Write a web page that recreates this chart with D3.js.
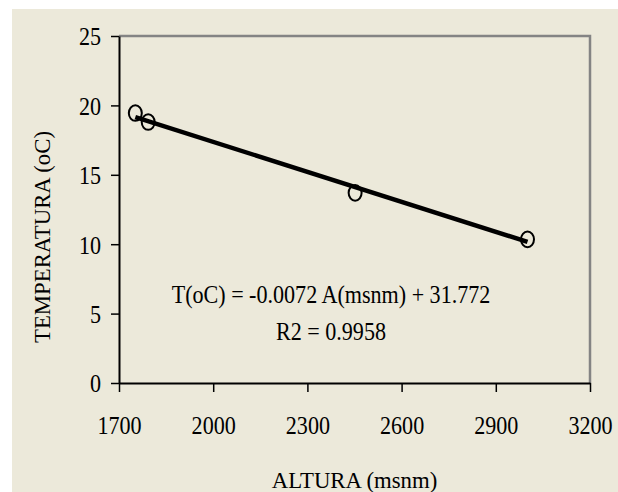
<!DOCTYPE html>
<html>
<head>
<meta charset="utf-8">
<script src="https://cdn.jsdelivr.net/npm/d3@7"></script>
<style>
  body { margin: 0; background: #fff; }
  text { font-family: "Liberation Serif", "Times New Roman", serif; fill: #000; }
</style>
</head>
<body>
<div id="app"></div>
<script>
// data
const altura = [1752, 1793, 2452, 3001];
const temperatura = [19.45, 18.8, 13.7, 10.35];
const xTicks = [1700, 2000, 2300, 2600, 2900, 3200];
const yTicks = [0, 5, 10, 15, 20, 25];
const slope = -0.0072, intercept = 31.772;
const eqLines = [`T(oC) = -0.0072 A(msnm) + 31.772`, `R2 = 0.9958`];

const W = 618, H = 492;
const M = {left: 119, right: 590, top: 36, bottom: 383};

const svg = d3.select(`#app`).append(`svg`).attr(`width`, W).attr(`height`, H);

svg.append(`rect`).attr(`x`, 12).attr(`y`, 9).attr(`width`, W - 12).attr(`height`, H - 9).attr(`fill`, `#ece9da`);

const x = d3.scaleLinear().domain([1700, 3200]).range([M.left, M.right]);
const y = d3.scaleLinear().domain([0, 25]).range([M.bottom, M.top]);

// top / right frame
svg.append(`path`)
  .attr(`d`, `M${M.left},${M.top}H${M.right}V${M.bottom}`)
  .attr(`fill`, `none`).attr(`stroke`, `#848484`).attr(`stroke-width`, 2.5);

const sq = 0.85;

const xAxis = svg.append(`g`).attr(`transform`, `translate(0,${M.bottom})`)
  .call(d3.axisBottom(x).tickValues(xTicks).tickSize(9).tickSizeOuter(0).tickFormat(d3.format(`d`)));
xAxis.select(`.domain`).attr(`stroke-width`, 2);
xAxis.selectAll(`.tick line`).attr(`stroke-width`, 1.5);
xAxis.selectAll(`.tick text`).attr(`font-size`, 26).attr(`y`, 51).attr(`dy`, 0)
  .attr(`transform`, `scale(${sq},1)`);

const yAxis = svg.append(`g`).attr(`transform`, `translate(${M.left},0)`)
  .call(d3.axisLeft(y).tickValues(yTicks).tickSize(8).tickSizeOuter(0));
yAxis.select(`.domain`).attr(`stroke-width`, 2);
yAxis.selectAll(`.tick line`).attr(`stroke-width`, 1.5);
yAxis.selectAll(`.tick text`).attr(`font-size`, 26).attr(`x`, -18 / sq).attr(`dy`, `0.34em`)
  .attr(`transform`, `scale(${sq},1)`);
svg.selectAll(`.domain`).attr(`stroke`, `#000`);

// trend line
const ext = d3.extent(altura);
svg.append(`line`)
  .attr(`x1`, x(ext[0])).attr(`y1`, y(slope * ext[0] + intercept))
  .attr(`x2`, x(ext[1])).attr(`y2`, y(slope * ext[1] + intercept))
  .attr(`stroke`, `#000`).attr(`stroke-width`, 4.5);

// points
svg.selectAll(`ellipse`).data(altura).enter().append(`ellipse`)
  .attr(`cx`, d => x(d))
  .attr(`cy`, (d, i) => y(temperatura[i]))
  .attr(`rx`, 6.5).attr(`ry`, 7.8)
  .attr(`fill`, `none`).attr(`stroke`, `#000`).attr(`stroke-width`, 2);

// equation
eqLines.forEach((t, i) => {
  svg.append(`g`).attr(`transform`, `translate(331,${303 + i * 37}) scale(${sq},1)`)
    .append(`text`).attr(`text-anchor`, `middle`).attr(`font-size`, 26).text(t);
});

// axis titles
svg.append(`g`).attr(`transform`, `translate(354.5,488) scale(0.95,1)`)
  .append(`text`).attr(`text-anchor`, `middle`).attr(`font-size`, 24).text(`ALTURA (msnm)`);

svg.append(`g`).attr(`transform`, `translate(50,237) rotate(-90) scale(0.95,1)`)
  .append(`text`).attr(`text-anchor`, `middle`).attr(`font-size`, 24).text(`TEMPERATURA (oC)`);
</script>
</body>
</html>
